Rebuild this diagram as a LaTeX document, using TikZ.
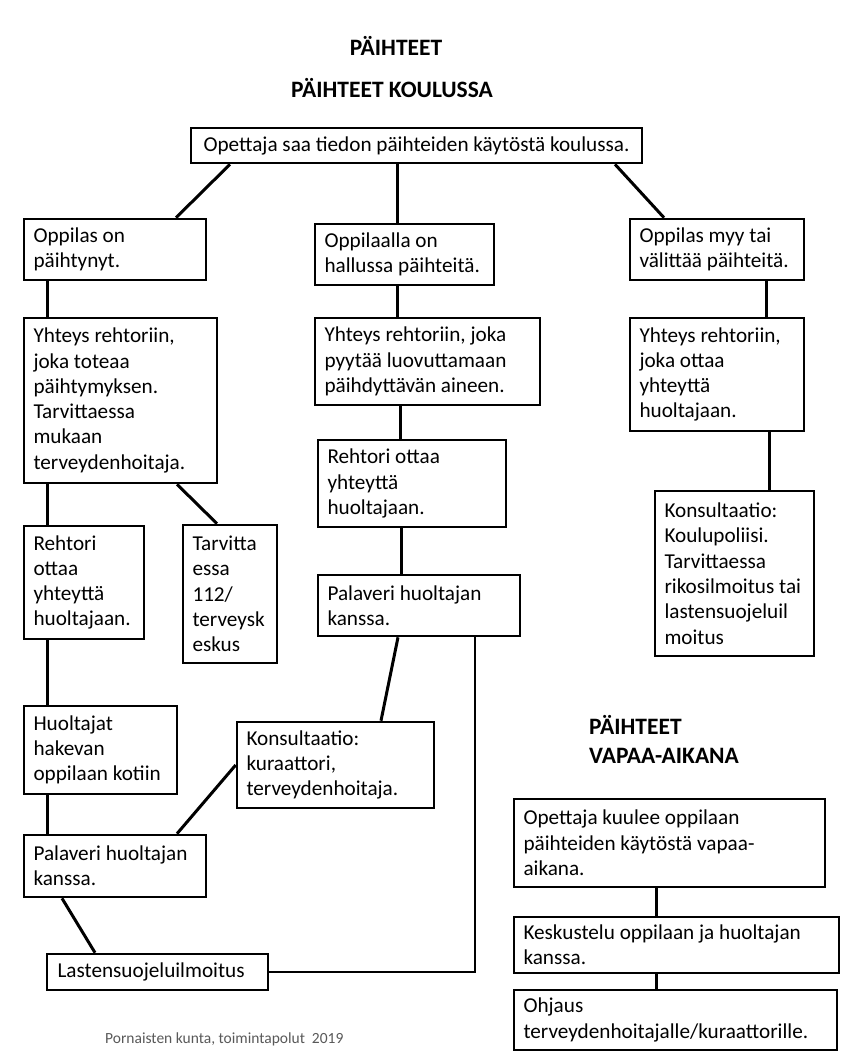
\documentclass[tikz,border=0pt]{standalone}
\usepackage{fontspec}
\setmainfont{Carlito}
\begin{document}
\begin{tikzpicture}[x=1pt,y=-1pt,
  box/.style={draw=black, line width=2.6pt, align=flush left, inner xsep=9.5pt, inner ysep=0pt,
    font=\fontsize{21.2}{25.3}\selectfont},
  conn/.style={draw=black, line width=3pt},
  ttl/.style={font=\fontsize{23.5}{28}\selectfont\bfseries, inner sep=0pt},
  ]
\useasboundingbox (0,0) rectangle (864,1060);
\fill[white] (0,0) rectangle (864,1060);

% titles
\node[ttl, anchor=base] (t1) at (396,55) {PÄIHTEET};
\node[ttl, anchor=base] (t2) at (392,97) {PÄIHTEET KOULUSSA};
\node[ttl, anchor=base west] (t3) at (589,734) {PÄIHTEET};
\node[ttl, anchor=base west] (t4) at (589,763) {VAPAA-AIKANA};

% boxes
\node[box, minimum width=451, minimum height=35, align=center] (top) at (416.5,145.5) {Opettaja saa tiedon päihteiden käytöstä koulussa.};
\node[box, text width=163, minimum height=61] (A) at (115,249.5) {Oppilas on\\päihtynyt.};
\node[box, text width=160, minimum height=61] (B) at (404.5,254.5) {Oppilaalla on\\hallussa päihteitä.};
\node[box, text width=155, minimum height=61] (C) at (717,249.5) {Oppilas myy tai\\välittää päihteitä.};
\node[box, text width=174, minimum height=165] (A2) at (120.5,400.5) {Yhteys rehtoriin,\\joka toteaa\\päihtymyksen.\\Tarvittaessa\\mukaan\\terveydenhoitaja.};
\node[box, text width=206, minimum height=87] (B2) at (427.5,361.5) {Yhteys rehtoriin, joka\\pyytää luovuttamaan\\päihdyttävän aineen.};
\node[box, text width=155, minimum height=113] (C2) at (717,374.5) {Yhteys rehtoriin,\\joka ottaa\\yhteyttä\\huoltajaan.};
\node[box, text width=169, minimum height=87] (B3) at (412,483.5) {Rehtori ottaa\\yhteyttä\\huoltajaan.};
\node[box, text width=140, minimum height=165] (C3) at (734.5,573.5) {Konsultaatio:\\Koulupoliisi.\\Tarvittaessa\\rikosilmoitus tai\\lastensuojeluil\\moitus};
\node[box, text width=101, minimum height=113] (A3) at (84,582.5) {Rehtori\\ottaa\\yhteyttä\\huoltajaan.};
\node[box, text width=75, minimum height=138] (A4) at (230,594) {Tarvitta\\essa\\112/\\terveysk\\eskus};
\node[box, text width=183, minimum height=61] (B4) at (419,605.5) {Palaveri huoltajan\\kanssa.};
\node[box, text width=134, minimum height=88] (A5) at (100.5,750) {Huoltajat\\hakevan\\oppilaan kotiin};
\node[box, text width=178, minimum height=86] (K) at (335.5,765) {Konsultaatio:\\kuraattori,\\terveydenhoitaja.};
\node[box, text width=163, minimum height=62] (A6) at (115,866) {Palaveri huoltajan\\kanssa.};
\node[box, text width=200, minimum height=36, inner xsep=10.5pt] (L) at (157.5,972) {Lastensuojeluilmoitus};
\node[box, text width=292, minimum height=88] (V1) at (669.5,843) {Opettaja kuulee oppilaan\\päihteiden käytöstä vapaa-\\aikana.};
\node[box, text width=306, minimum height=56] (V2) at (676.5,945) {Keskustelu oppilaan ja huoltajan\\kanssa.};
\node[box, text width=304, minimum height=60] (V3) at (675.5,1020) {Ohjaus\\terveydenhoitajalle/kuraattorille.};

% footer
\node[anchor=base west, inner sep=0pt, text=black!65, font=\fontsize{15.5}{18}\selectfont] (foot) at (105,1043) {Pornaisten kunta, toimintapolut\ \ 2019};

% connectors
\draw[conn] (top.south -| 230,0) -- (A.north -| 176,0);
\draw[conn] (top.south -| 397,0) -- (B.north -| 397,0);
\draw[conn] (top.south -| 615,0) -- (C.north -| 664,0);
\draw[conn] (A.south -| 47,0) -- (A2.north -| 47,0);
\draw[conn] (B.south -| 397,0) -- (B2.north -| 397,0);
\draw[conn] (C.south -| 766,0) -- (C2.north -| 766,0);
\draw[conn] (B2.south -| 400,0) -- (B3.north -| 400,0);
\draw[conn] (C2.south -| 769,0) -- (C3.north -| 769,0);
\draw[conn] (A2.south -| 47,0) -- (A3.north -| 47,0);
\draw[conn] (A2.south -| 177,0) -- (A4.north -| 217,0);
\draw[conn] (B3.south -| 401,0) -- (B4.north -| 401,0);
\draw[conn] (A3.south -| 47,0) -- (A5.north -| 47,0);
\draw[conn] (B4.south -| 398,0) -- (K.north -| 381,0);
\draw[conn] (A5.south -| 47,0) -- (A6.north -| 47,0);
\draw[conn] (K.west) -- (A6.north -| 177,0);
\draw[conn] (A6.south -| 62,0) -- (L.north -| 95,0);
\draw[conn, line width=2.4pt] (B4.south -| 475,0) |- (L.east);
\draw[conn] (V1.south -| 656,0) -- (V2.north -| 656,0);
\draw[conn] (V2.south -| 656,0) -- (V3.north -| 656,0);
\end{tikzpicture}
\end{document}
